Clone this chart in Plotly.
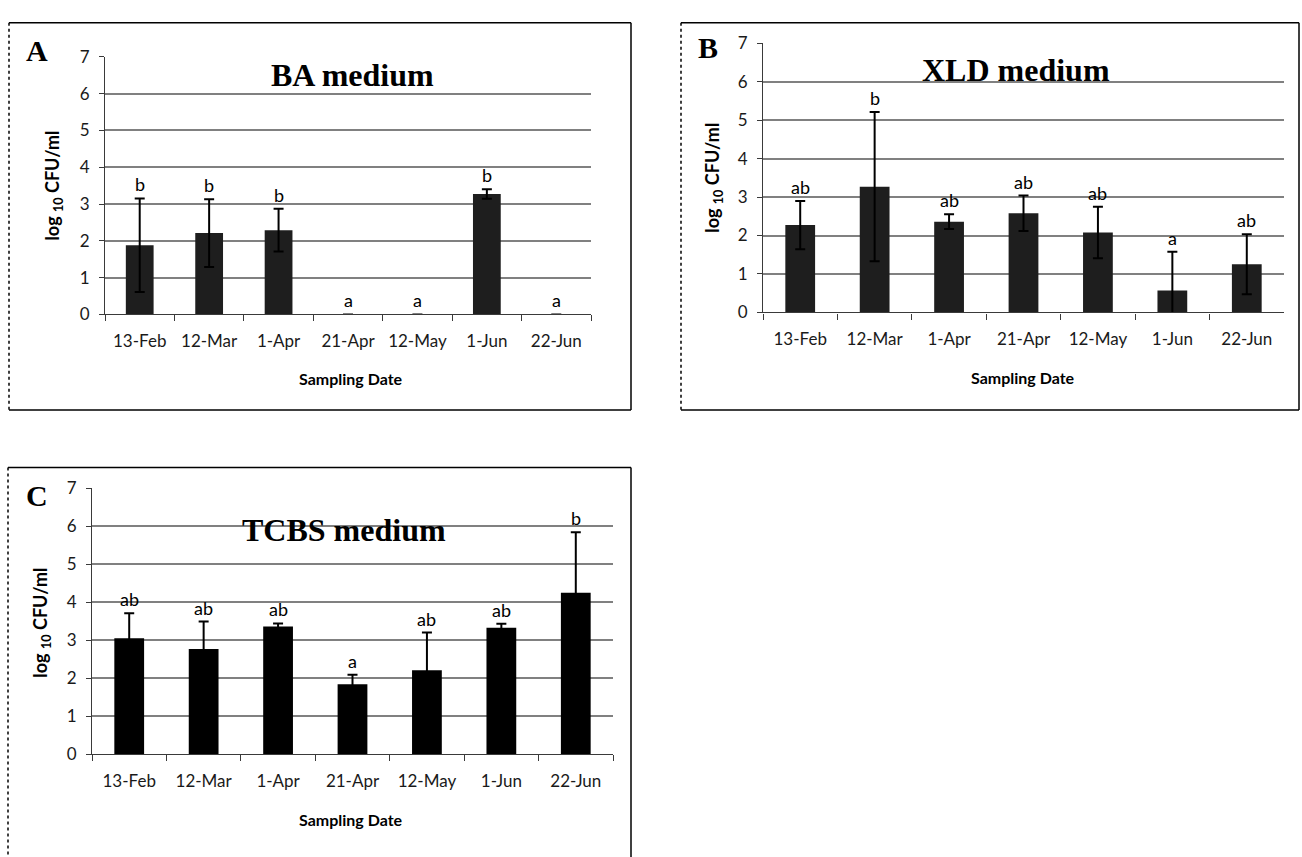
import plotly.graph_objects as go

W, H = 1302, 857

# ---------------- data ----------------
dates = ["13-Feb", "12-Mar", "1-Apr", "21-Apr", "12-May", "1-Jun", "22-Jun"]
y_ticks = [0, 1, 2, 3, 4, 5, 6, 7]

ba_mean = [1.88, 2.21, 2.29, 0.0, 0.0, 3.27, 0.0]
ba_err = [1.27, 0.92, 0.58, 0.0, 0.0, 0.13, 0.0]
ba_letters = ["b", "b", "b", "a", "a", "b", "a"]

xld_mean = [2.27, 3.27, 2.36, 2.58, 2.08, 0.57, 1.25]
xld_err = [0.63, 1.94, 0.19, 0.46, 0.67, 1.01, 0.78]
xld_letters = ["ab", "b", "ab", "ab", "ab", "a", "ab"]

tcbs_mean = [3.05, 2.77, 3.36, 1.84, 2.21, 3.33, 4.25]
tcbs_err = [0.66, 0.72, 0.08, 0.25, 0.99, 0.10, 1.59]
tcbs_letters = ["ab", "ab", "ab", "a", "ab", "ab", "b"]

# ---------------- layout helpers ----------------
def px(x):
    return x / W


def py(y):
    return 1 - y / H


SANS = "Lato"
SERIF = "Liberation Serif"

panels = [
    dict(key="", mean=ba_mean, err=ba_err, letters=ba_letters, title="BA medium",
         tag="A", color="#1e1e1e",
         plot=(105, 591, 47, 311), box=(9, 631, 12, 409),
         tag_pos=(37, 40), title_pos=(352, 66), ytitle_pos=(54, 179), xtitle_pos=(351, 377)),
    dict(key="2", mean=xld_mean, err=xld_err, letters=xld_letters, title="XLD medium",
         tag="B", color="#1e1e1e",
         plot=(763, 1284, 33, 309), box=(681, 1299, 12, 409),
         tag_pos=(708, 37), title_pos=(1016, 60), ytitle_pos=(714, 171), xtitle_pos=(1023, 376)),
    dict(key="3", mean=tcbs_mean, err=tcbs_err, letters=tcbs_letters, title="TCBS medium",
         tag="C", color="#000000",
         plot=(92, 613, 489, 762), box=(8, 631, 468, 880),
         tag_pos=(37, 497), title_pos=(344, 532), ytitle_pos=(42, 627), xtitle_pos=(351, 829)),
]

fig = go.Figure()
annotations = []
shapes = []

for p in panels:
    k = p["key"]
    xa = "x" + k
    ya = "y" + k
    fig.add_trace(go.Bar(
        x=dates, y=p["mean"], xaxis=xa, yaxis=ya,
        marker=dict(color=p["color"], line=dict(width=0)),
        width=0.4,
        error_y=dict(type="data", array=p["err"], visible=True,
                     color="black", thickness=2, width=5),
        showlegend=False, hoverinfo="skip",
    ))
    x0, x1, y0, y1 = p["plot"]
    axis_font = dict(family=SANS, size=17, color="#1a1a1a")
    fig.layout["xaxis" + k] = dict(
        domain=[px(x0), px(x1)], anchor=ya, type="category",
        categoryorder="array", categoryarray=dates,
        showgrid=False, showline=True, linecolor="#3a3a3a", linewidth=1.2,
        ticks="outside", tickson="boundaries", ticklen=6, tickcolor="#3a3a3a",
        tickwidth=1.2, tickfont=axis_font, ticklabelstandoff=11, zeroline=False,
        fixedrange=True,
    )
    fig.layout["yaxis" + k] = dict(
        domain=[py(y1), py(y0)], anchor=xa, range=[0, 7],
        tickvals=y_ticks, showgrid=True, gridcolor="#808080", gridwidth=1.5,
        showline=True, linecolor="#3a3a3a", linewidth=1.2,
        ticks="outside", ticklen=5, tickcolor="#3a3a3a", tickwidth=1.2,
        tickfont=axis_font, ticklabelstandoff=6, zeroline=False, fixedrange=True,
    )
    # significance letters
    for d, m, e, t in zip(dates, p["mean"], p["err"], p["letters"]):
        annotations.append(dict(
            x=d, y=m + e, xref=xa, yref=ya, text=t, showarrow=False,
            yanchor="middle", yshift=14,
            font=dict(family=SANS, size=18, color="black"),
        ))
    # panel tag
    annotations.append(dict(
        x=px(p["tag_pos"][0]), y=py(p["tag_pos"][1]), xref="paper", yref="paper",
        text="<b>%s</b>" % p["tag"], showarrow=False, xanchor="center", yanchor="middle",
        font=dict(family=SERIF, size=30, color="black"),
    ))
    # panel title
    annotations.append(dict(
        x=px(p["title_pos"][0]), y=py(p["title_pos"][1]), xref="paper", yref="paper",
        text="<b>%s</b>" % p["title"], showarrow=False, xanchor="center", yanchor="middle",
        font=dict(family=SERIF, size=32, color="black"),
    ))
    # y title
    annotations.append(dict(
        x=px(p["ytitle_pos"][0]), y=py(p["ytitle_pos"][1]), xref="paper", yref="paper",
        text="<b>log <sub>10</sub> CFU/ml</b>", showarrow=False, textangle=-90,
        xanchor="center", yanchor="middle",
        font=dict(family=SANS, size=18, color="black"),
    ))
    # x title
    annotations.append(dict(
        x=px(p["xtitle_pos"][0]), y=py(p["xtitle_pos"][1]), xref="paper", yref="paper",
        text="<b>Sampling Date</b>", showarrow=False, xanchor="center", yanchor="middle",
        font=dict(family=SANS, size=16, color="black"),
    ))
    bx0, bx1, by0, by1 = p["box"]
    edges = [
        (bx0, by0, bx1, by0, "solid"),
        (bx1, by0, bx1, by1, "solid"),
        (bx0, by1, bx1, by1, "solid"),
        (bx0, by0, bx0, by1, "dot"),
    ]
    for ex0, ey0, ex1, ey1, dash in edges:
        shapes.append(dict(
            type="line", xref="paper", yref="paper",
            x0=px(ex0), x1=px(ex1), y0=py(ey0), y1=py(ey1),
            line=dict(color="black", width=1.5, dash=dash), layer="above",
        ))

fig.update_layout(
    width=W, height=H, margin=dict(l=0, r=0, t=0, b=0),
    paper_bgcolor="white", plot_bgcolor="white",
    annotations=annotations, shapes=shapes, bargap=0.6,
)

fig.write_html(
    "out.html",
    config={"displayModeBar": False},
    post_script="document.body.style.margin='0px';document.body.style.overflow='hidden';",
)
